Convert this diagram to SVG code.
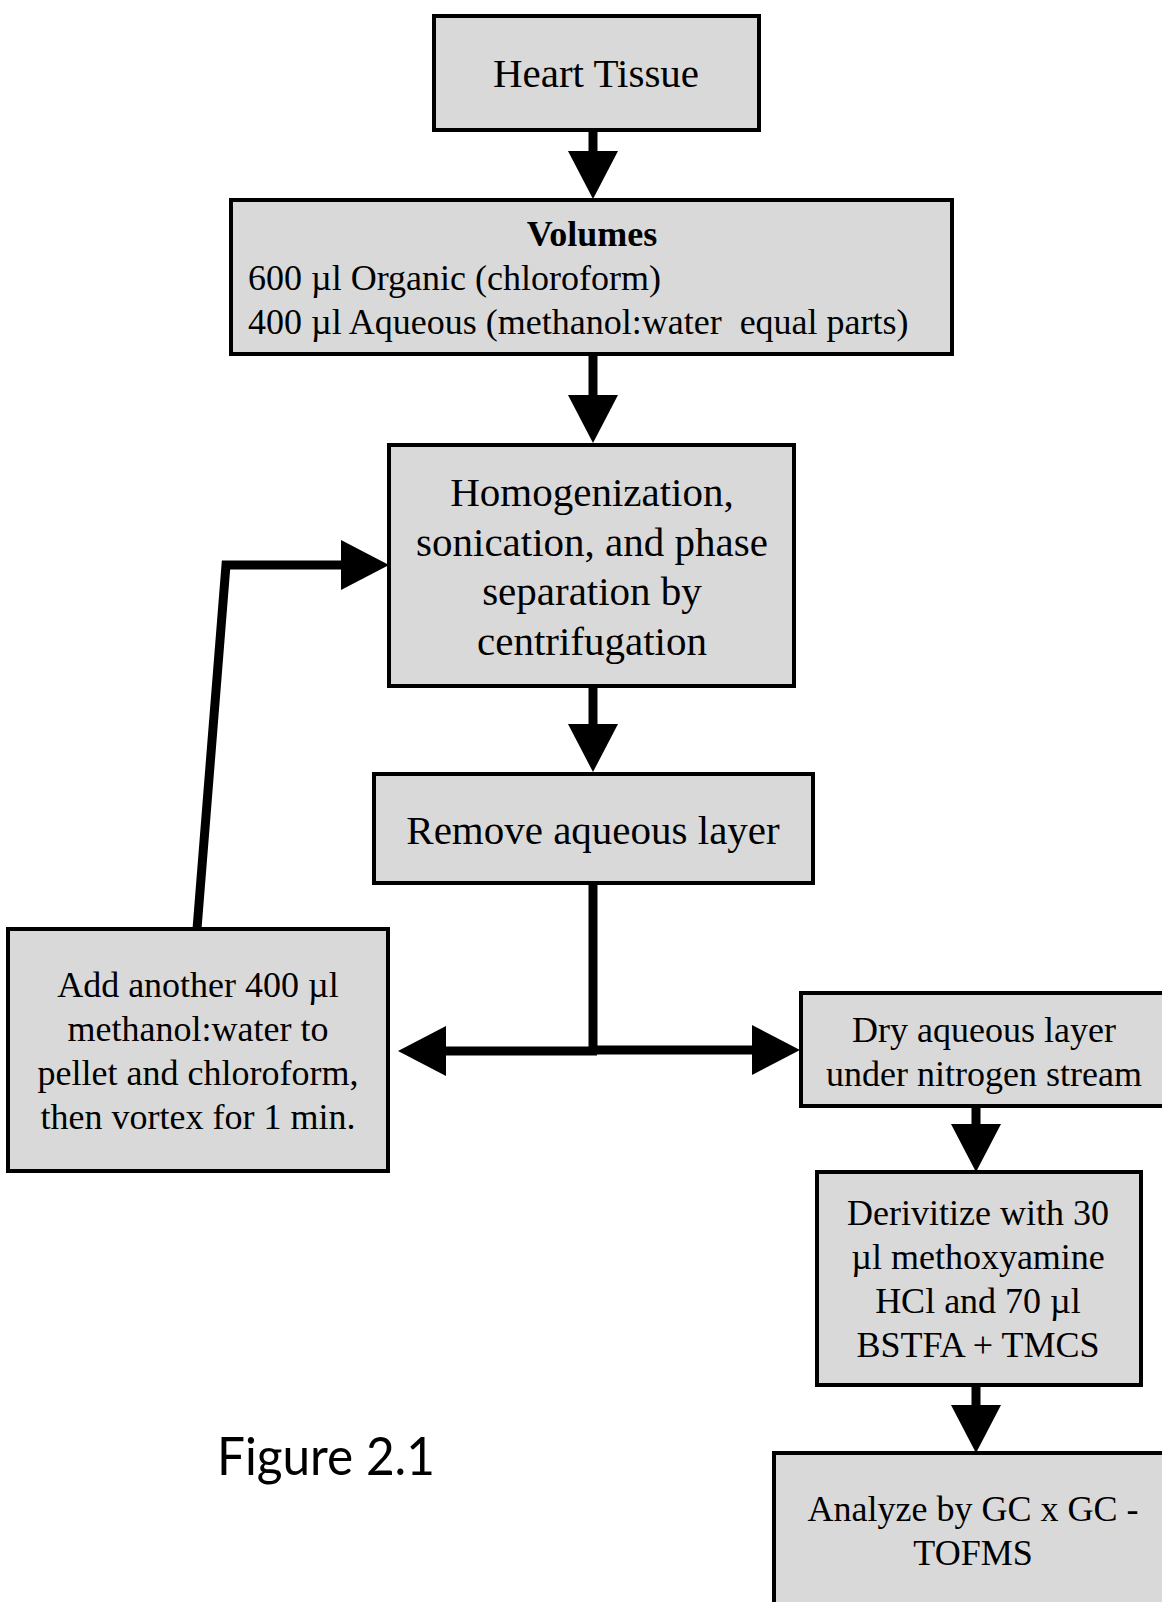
<svg xmlns="http://www.w3.org/2000/svg" width="1162" height="1602" viewBox="0 0 1162 1602">
<style>
.box{fill:#d9d9d9;stroke:#000;stroke-width:4}
.t{font-family:"Liberation Serif","Times New Roman",serif;fill:#000;text-anchor:middle}
.l{font-size:41px}
.s{font-size:36px}
.c{fill:none;stroke:#000;stroke-width:9}
</style>
<defs>
<marker id="ah" markerUnits="userSpaceOnUse" markerWidth="50" markerHeight="52" refX="0" refY="25" orient="auto" viewBox="0 0 50 52">
<path d="M0,0 L48,25 L0,50 Z" fill="#000"/>
</marker>
</defs>
<rect width="1162" height="1602" fill="#fff"/>
<g id="connectors">
<line class="c" x1="593" y1="130" x2="593" y2="151" marker-end="url(#ah)"/>
<line class="c" x1="593" y1="354" x2="593" y2="395" marker-end="url(#ah)"/>
<line class="c" x1="593" y1="686" x2="593" y2="724" marker-end="url(#ah)"/>
<line class="c" x1="593" y1="883" x2="593" y2="1054"/>
<line class="c" x1="597" y1="1051" x2="446" y2="1051" marker-end="url(#ah)"/>
<line class="c" x1="589" y1="1050" x2="752" y2="1050" marker-end="url(#ah)"/>
<polyline class="c" points="197,929 226,565 341,565" marker-end="url(#ah)"/>
<line class="c" x1="976" y1="1106" x2="976" y2="1124" marker-end="url(#ah)"/>
<line class="c" x1="976" y1="1385" x2="976" y2="1405" marker-end="url(#ah)"/>
</g>
<g id="heart">
<rect class="box" x="434" y="16" width="325" height="114"/>
<text class="t l" x="596" y="87">Heart Tissue</text>
</g>
<g id="volumes">
<rect class="box" x="231" y="200" width="721" height="154"/>
<text class="t s" x="592" y="246" font-weight="bold">Volumes</text>
<text class="t s" x="248" y="290" text-anchor="start" style="text-anchor:start">600 µl Organic (chloroform)</text>
<text class="t s" x="248" y="334" style="text-anchor:start" xml:space="preserve">400 µl Aqueous (methanol:water  equal parts)</text>
</g>
<g id="homogenization">
<rect class="box" x="389" y="445" width="405" height="241"/>
<text class="t l" x="592" y="506">Homogenization,</text>
<text class="t l" x="592" y="556">sonication, and phase</text>
<text class="t l" x="592" y="605">separation by</text>
<text class="t l" x="592" y="655">centrifugation</text>
</g>
<g id="remove">
<rect class="box" x="374" y="774" width="439" height="109"/>
<text class="t l" x="593" y="844">Remove aqueous layer</text>
</g>
<g id="addanother">
<rect class="box" x="8" y="929" width="380" height="242"/>
<text class="t s" x="198" y="997">Add another 400 µl</text>
<text class="t s" x="198" y="1041">methanol:water to</text>
<text class="t s" x="198" y="1085">pellet and chloroform,</text>
<text class="t s" x="198" y="1129">then vortex for 1 min.</text>
</g>
<g id="dry">
<rect class="box" x="801" y="993" width="366" height="113"/>
<text class="t s" x="984" y="1042">Dry aqueous layer</text>
<text class="t s" x="984" y="1086">under nitrogen stream</text>
</g>
<g id="derivitize">
<rect class="box" x="817" y="1172" width="324" height="213"/>
<text class="t s" x="978" y="1225">Derivitize with 30</text>
<text class="t s" x="978" y="1269">µl methoxyamine</text>
<text class="t s" x="978" y="1313">HCl and 70 µl</text>
<text class="t s" x="978" y="1357">BSTFA + TMCS</text>
</g>
<g id="analyze">
<rect class="box" x="774" y="1453" width="393" height="155"/>
<text class="t s" x="973" y="1521">Analyze by GC x GC -</text>
<text class="t s" x="973" y="1565">TOFMS</text>
</g>
<g id="caption">
<text x="217" y="1475" font-family="Lato,'Liberation Sans',sans-serif" font-size="52" textLength="218" lengthAdjust="spacingAndGlyphs">Figure 2.1</text>
</g>
</svg>
